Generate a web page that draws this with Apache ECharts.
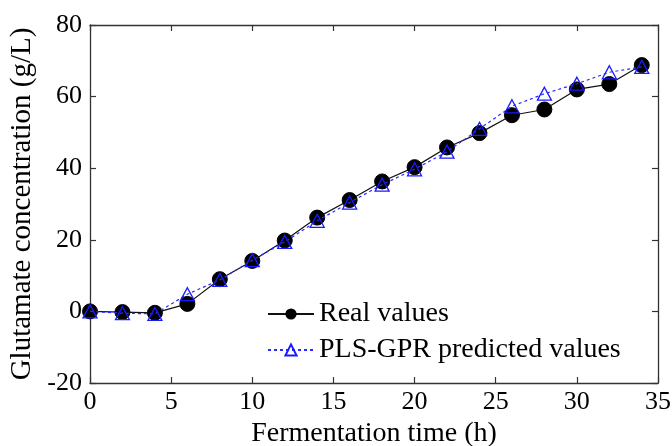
<!DOCTYPE html>
<html>
<head>
<meta charset="utf-8">
<script src="https://cdn.jsdelivr.net/npm/echarts@6/dist/echarts.min.js"></script>
<style>html,body{margin:0;padding:0;background:#fff}#c{width:672px;height:446px}</style>
</head>
<body>
<div id="c"></div>
<script>
// Fermentation time (h)
const timeH = [0, 2, 4, 6, 8, 10, 12, 14, 16, 18, 20, 22, 24, 26, 28, 30, 32, 34];
// Measured glutamate concentration (g/L)
const realValues = [0, -0.2, -0.4, 2.1, 9.0, 14.1, 19.8, 26.2, 31.1, 36.3, 40.3, 45.8, 49.8, 54.8, 56.4, 62.0, 63.5, 68.8];
// PLS-GPR model prediction (g/L)
const predValues = [0, -0.5, -0.7, 4.8, 8.8, 14.3, 19.4, 25.3, 30.4, 35.4, 39.7, 44.6, 51.0, 57.3, 60.8, 63.6, 66.8, 68.3];
const xTicks = [0, 5, 10, 15, 20, 25, 30, 35];
const yTicks = [-20, 0, 20, 40, 60, 80];

const FONT = '"Liberation Serif", "Times New Roman", serif';
const AXIS_COLOR = '#333';

const pair = (xs, ys) => xs.map((x, i) => [x, ys[i]]);

const axisLine = { onZero: false, lineStyle: { color: AXIS_COLOR, width: 1.3 } };
const tickInside = { inside: true, length: 6, lineStyle: { color: AXIS_COLOR, width: 1.2 } };
const tickFont = { fontFamily: FONT, fontSize: 26, color: '#000' };

const chart = echarts.init(document.getElementById('c'));
chart.setOption({
  animation: false,
  backgroundColor: '#fff',
  grid: { left: 90, right: 14, top: 25, bottom: 63, containLabel: false, outerBoundsMode: 'none' },
  legend: {
    orient: 'vertical',
    left: 267,
    top: 300,
    padding: 0,
    itemWidth: 46,
    itemHeight: 14,
    itemGap: 8,
    textStyle: { fontFamily: FONT, fontSize: 28, color: '#000' },
    data: ['Real values', 'PLS-GPR predicted values']
  },
  xAxis: [
    {
      type: 'value', min: xTicks[0], max: xTicks[xTicks.length - 1], interval: 5,
      position: 'bottom',
      name: 'Fermentation time (h)', nameLocation: 'middle', nameGap: 36,
      nameTextStyle: { fontFamily: FONT, fontSize: 28, color: '#000' },
      axisLine, axisTick: tickInside,
      axisLabel: Object.assign({ margin: 6 }, tickFont),
      splitLine: { show: false }
    },
    {
      type: 'value', min: xTicks[0], max: xTicks[xTicks.length - 1], interval: 5,
      position: 'top', axisLine, axisTick: tickInside,
      axisLabel: { show: false }, splitLine: { show: false }
    }
  ],
  yAxis: [
    {
      type: 'value', min: yTicks[0], max: yTicks[yTicks.length - 1], interval: 20,
      position: 'left',
      name: 'Glutamate concentration (g/L)', nameLocation: 'middle', nameGap: 51,
      nameTextStyle: { fontFamily: FONT, fontSize: 29, color: '#000' },
      axisLine, axisTick: tickInside,
      axisLabel: Object.assign({ margin: 8 }, tickFont),
      splitLine: { show: false }
    },
    {
      type: 'value', min: yTicks[0], max: yTicks[yTicks.length - 1], interval: 20,
      position: 'right', axisLine, axisTick: tickInside,
      axisLabel: { show: false }, splitLine: { show: false }
    }
  ],
  series: [
    {
      name: 'Real values',
      type: 'line',
      data: pair(timeH, realValues),
      symbol: 'circle', symbolSize: 15,
      lineStyle: { color: '#111', width: 1.2 },
      itemStyle: { color: '#000', borderColor: '#000' },
      z: 2
    },
    {
      name: 'PLS-GPR predicted values',
      type: 'line',
      data: pair(timeH, predValues),
      symbol: 'triangle', symbolSize: [14, 13],
      lineStyle: { color: '#2a2aff', width: 1.2, type: [3, 3] },
      itemStyle: { color: 'rgba(255,255,255,0)', borderColor: '#1a1aff', borderWidth: 1.3 },
      z: 3
    }
  ]
});
</script>
</body>
</html>
